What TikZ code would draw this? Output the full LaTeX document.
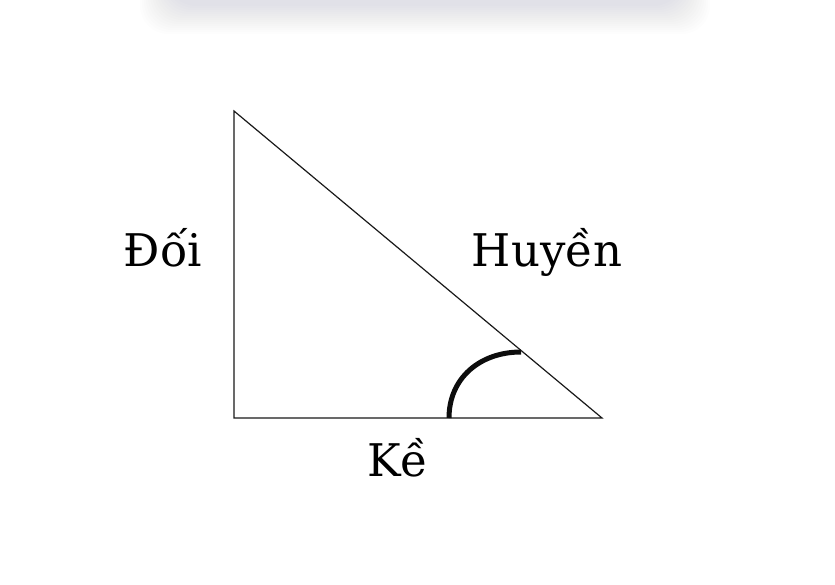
\documentclass[tikz,border=0pt]{standalone}
\usepackage{fontspec}
\setmainfont{DejaVu Serif}
\begin{document}
\begin{tikzpicture}[x=1pt,y=-1pt,
  lbl/.style={font=\fontsize{45}{45}\selectfont, inner sep=0pt, anchor=base},
  side/.style={draw=black!90, line width=1.2pt},
  anglemark/.style={draw=black!95, line width=5pt}]
\useasboundingbox (0,0) rectangle (835,584);
\fill[white] (0,0) rectangle (835,584);
% top shadow
\foreach \i in {0,2,...,28}{
  \fill[black!70!blue!30!gray, opacity=0.007, rounded corners=28pt]
    (140+\i,-60) rectangle (710-\i,34-\i);
}
\coordinate (A) at (234,111);
\coordinate (C) at (234,418);
\coordinate (B) at (602,418);
\draw[side] (A) -- (C) -- (B) -- cycle;
\coordinate (P) at (449,418);
\coordinate (Q) at (521,352);
\draw[anglemark] (P) .. controls (449,378) and (480,352) .. (Q);
\node[lbl] (doi) at (163,266) {Đối};
\node[lbl] (huyen) at (547,266) {Huyền};
\node[lbl] (ke) at (398,476) {Kề};
\end{tikzpicture}
\end{document}
